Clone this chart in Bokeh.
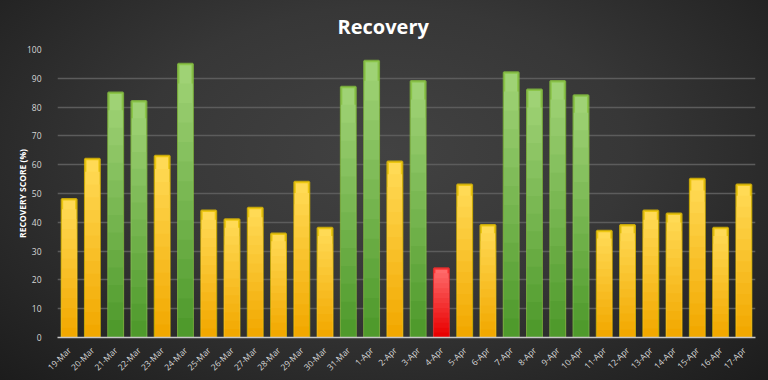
import numpy as np
from bokeh.plotting import figure
from bokeh.models import ColumnDataSource, FactorRange, Range1d, FixedTicker
from bokeh.embed import file_html
from bokeh.resources import INLINE

dates = ["19-Mar", "20-Mar", "21-Mar", "22-Mar", "23-Mar", "24-Mar", "25-Mar", "26-Mar",
         "27-Mar", "28-Mar", "29-Mar", "30-Mar", "31-Mar", "1-Apr", "2-Apr", "3-Apr",
         "4-Apr", "5-Apr", "6-Apr", "7-Apr", "8-Apr", "9-Apr", "10-Apr", "11-Apr",
         "12-Apr", "13-Apr", "14-Apr", "15-Apr", "16-Apr", "17-Apr"]
recovery = [48, 62, 85, 82, 63, 95, 44, 41, 45, 36, 54, 38, 87, 96, 61, 89,
            24, 53, 39, 92, 86, 89, 84, 37, 39, 44, 43, 55, 38, 53]
y_ticks = [0, 10, 20, 30, 40, 50, 60, 70, 80, 90, 100]

# zone palettes: (top colour, bottom colour, edge colour)
zones = {
    "green": ("#9fd275", "#4f9a2c", "#86c23e"),
    "yellow": ("#ffda55", "#f2a800", "#e8c200"),
    "red": ("#ff6a6a", "#e80000", "#ff2a2a"),
}

def zone(v):
    if v >= 67:
        return "green"
    if v >= 34:
        return "yellow"
    return "red"

def mix(c1, c2, t):
    a = np.array([int(c1[i:i + 2], 16) for i in (1, 3, 5)], float)
    b = np.array([int(c2[i:i + 2], 16) for i in (1, 3, 5)], float)
    c = a + (b - a) * t
    return "#%02x%02x%02x" % tuple(int(round(x)) for x in c)

zs = [zone(v) for v in recovery]

p = figure(x_range=FactorRange(*dates), y_range=Range1d(0, 100),
           width=768, height=380, output_backend="svg", toolbar_location=None,
           min_border_left=57, min_border_right=13, min_border_top=49, min_border_bottom=43)

p.background_fill_alpha = 0
p.border_fill_alpha = 0
p.outline_line_color = None

# outer bar with edge glow
src0 = ColumnDataSource(dict(x=dates, top=recovery,
                             fill=[zones[z][0] for z in zs],
                             edge=[zones[z][2] for z in zs]))
p.vbar(x="x", top="top", bottom=0, width=0.62, source=src0,
       fill_color="fill", line_color="edge", line_width=2.5, line_alpha=0.8)

# vertical gradient built from stacked layers
N = 14
for i in range(1, N):
    t = i / (N - 1)
    tops = [v * (1 - i / N) for v in recovery]
    cols = [mix(zones[z][0], zones[z][1], t) for z in zs]
    src = ColumnDataSource(dict(x=dates, top=tops, fill=cols))
    p.vbar(x="x", top="top", bottom=0, width=0.62, source=src,
           fill_color="fill", line_color=None)

p.title.text = "Recovery"
p.title.align = "left"
p.title.offset = 280
p.title.standoff = 20
p.title.text_color = "#ffffff"
p.title.text_font = "Open Sans"
p.title.text_font_size = "20px"
p.title.text_font_style = "bold"

p.xgrid.grid_line_color = None
p.ygrid.grid_line_color = "#5c5c5c"
p.ygrid.grid_line_width = 1.5
p.ygrid.ticker = FixedTicker(ticks=y_ticks)
p.ygrid.level = "underlay"

p.yaxis.ticker = FixedTicker(ticks=y_ticks)
p.yaxis.axis_line_color = None
p.yaxis.major_tick_line_color = None
p.yaxis.minor_tick_line_color = None
p.yaxis.major_label_text_color = "#d6d6d6"
p.yaxis.major_label_text_font = "Open Sans"
p.yaxis.major_label_text_font_size = "8.5px"
p.yaxis.major_label_standoff = 10
p.yaxis.axis_label = "RECOVERY SCORE (%)"
p.yaxis.axis_label_text_color = "#ffffff"
p.yaxis.axis_label_text_font = "Open Sans"
p.yaxis.axis_label_text_font_size = "8.5px"
p.yaxis.axis_label_text_font_style = "bold"
p.yaxis.axis_label_standoff = -4

p.xaxis.axis_line_color = "#c8c8c8"
p.xaxis.axis_line_width = 1.5
p.xaxis.major_tick_line_color = None
p.xaxis.minor_tick_line_color = None
p.xaxis.major_label_orientation = np.pi / 4
p.xaxis.major_label_text_color = "#dadada"
p.xaxis.major_label_text_font = "Open Sans"
p.xaxis.major_label_text_font_size = "8.5px"

html = file_html(p, INLINE)
css = ("<style>html, body { margin:0; padding:0; overflow:hidden; width:768px; height:380px;"
       " background-color:#363636;"
       " background-image:radial-gradient(ellipse at 50% 40%, #424242 0%, #373737 45%, #1c1c1c 100%); }"
       "</style>")
html = html.replace("</head>", css + "</head>", 1)
open("out.html", "w").write(html)
